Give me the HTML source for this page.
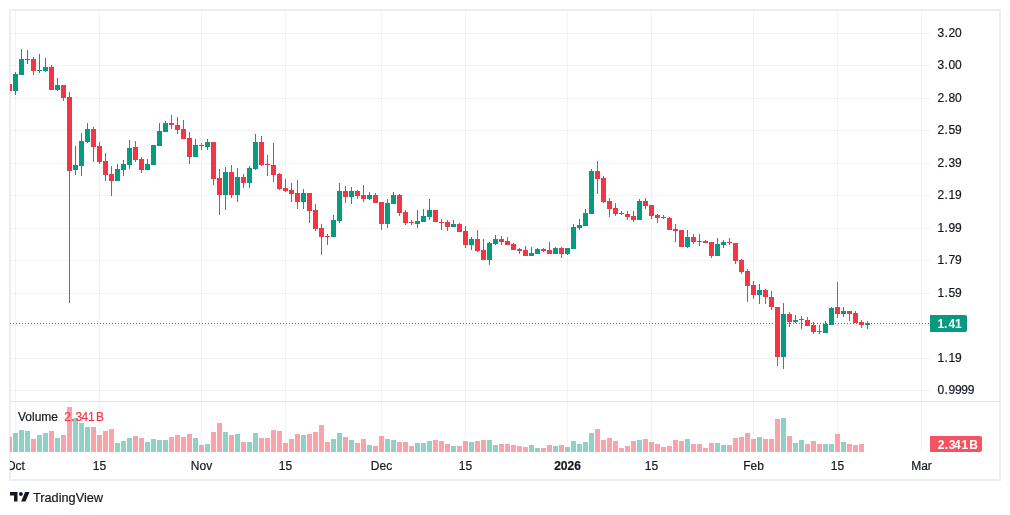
<!DOCTYPE html><html><head><meta charset="utf-8"><style>html,body{margin:0;padding:0;background:#fff;width:1010px;height:515px;overflow:hidden}svg{display:block;will-change:transform}text{font-family:"Liberation Sans",sans-serif;stroke:currentColor;stroke-width:0.2px}</style></head><body>
<svg width="1010" height="515" viewBox="0 0 1010 515">
<defs><clipPath id="cm"><rect x="10" y="10" width="911" height="391"/></clipPath><clipPath id="cv"><rect x="10" y="402" width="911" height="50"/></clipPath><clipPath id="ct"><rect x="10" y="452" width="989" height="27"/></clipPath></defs>
<g shape-rendering="crispEdges">
<rect x="9" y="9" width="992" height="2" fill="#eceef2"/>
<rect x="9" y="479" width="992" height="2" fill="#eceef2"/>
<rect x="9" y="9" width="2" height="472" fill="#eceef2"/>
<rect x="999" y="9" width="2" height="472" fill="#eceef2"/>
<rect x="15" y="10" width="1" height="391" fill="rgba(42,46,57,0.06)"/>
<rect x="15" y="402" width="1" height="50" fill="rgba(42,46,57,0.06)"/>
<rect x="99" y="10" width="1" height="391" fill="rgba(42,46,57,0.06)"/>
<rect x="99" y="402" width="1" height="50" fill="rgba(42,46,57,0.06)"/>
<rect x="201" y="10" width="1" height="391" fill="rgba(42,46,57,0.06)"/>
<rect x="201" y="402" width="1" height="50" fill="rgba(42,46,57,0.06)"/>
<rect x="285" y="10" width="1" height="391" fill="rgba(42,46,57,0.06)"/>
<rect x="285" y="402" width="1" height="50" fill="rgba(42,46,57,0.06)"/>
<rect x="381" y="10" width="1" height="391" fill="rgba(42,46,57,0.06)"/>
<rect x="381" y="402" width="1" height="50" fill="rgba(42,46,57,0.06)"/>
<rect x="465" y="10" width="1" height="391" fill="rgba(42,46,57,0.06)"/>
<rect x="465" y="402" width="1" height="50" fill="rgba(42,46,57,0.06)"/>
<rect x="567" y="10" width="1" height="391" fill="rgba(42,46,57,0.06)"/>
<rect x="567" y="402" width="1" height="50" fill="rgba(42,46,57,0.06)"/>
<rect x="651" y="10" width="1" height="391" fill="rgba(42,46,57,0.06)"/>
<rect x="651" y="402" width="1" height="50" fill="rgba(42,46,57,0.06)"/>
<rect x="753" y="10" width="1" height="391" fill="rgba(42,46,57,0.06)"/>
<rect x="753" y="402" width="1" height="50" fill="rgba(42,46,57,0.06)"/>
<rect x="837" y="10" width="1" height="391" fill="rgba(42,46,57,0.06)"/>
<rect x="837" y="402" width="1" height="50" fill="rgba(42,46,57,0.06)"/>
<rect x="10" y="33" width="911" height="1" fill="rgba(42,46,57,0.06)"/>
<rect x="922" y="33" width="8" height="1" fill="rgba(42,46,57,0.06)"/>
<rect x="10" y="65" width="911" height="1" fill="rgba(42,46,57,0.06)"/>
<rect x="922" y="65" width="8" height="1" fill="rgba(42,46,57,0.06)"/>
<rect x="10" y="98" width="911" height="1" fill="rgba(42,46,57,0.06)"/>
<rect x="922" y="98" width="8" height="1" fill="rgba(42,46,57,0.06)"/>
<rect x="10" y="130" width="911" height="1" fill="rgba(42,46,57,0.06)"/>
<rect x="922" y="130" width="8" height="1" fill="rgba(42,46,57,0.06)"/>
<rect x="10" y="163" width="911" height="1" fill="rgba(42,46,57,0.06)"/>
<rect x="922" y="163" width="8" height="1" fill="rgba(42,46,57,0.06)"/>
<rect x="10" y="195" width="911" height="1" fill="rgba(42,46,57,0.06)"/>
<rect x="922" y="195" width="8" height="1" fill="rgba(42,46,57,0.06)"/>
<rect x="10" y="228" width="911" height="1" fill="rgba(42,46,57,0.06)"/>
<rect x="922" y="228" width="8" height="1" fill="rgba(42,46,57,0.06)"/>
<rect x="10" y="260" width="911" height="1" fill="rgba(42,46,57,0.06)"/>
<rect x="922" y="260" width="8" height="1" fill="rgba(42,46,57,0.06)"/>
<rect x="10" y="293" width="911" height="1" fill="rgba(42,46,57,0.06)"/>
<rect x="922" y="293" width="8" height="1" fill="rgba(42,46,57,0.06)"/>
<rect x="10" y="325" width="911" height="1" fill="rgba(42,46,57,0.06)"/>
<rect x="922" y="325" width="8" height="1" fill="rgba(42,46,57,0.06)"/>
<rect x="10" y="358" width="911" height="1" fill="rgba(42,46,57,0.06)"/>
<rect x="922" y="358" width="8" height="1" fill="rgba(42,46,57,0.06)"/>
<rect x="10" y="390" width="911" height="1" fill="rgba(42,46,57,0.06)"/>
<rect x="922" y="390" width="8" height="1" fill="rgba(42,46,57,0.06)"/>
<rect x="921" y="10" width="1" height="442" fill="rgba(42,46,57,0.06)"/>
<rect x="10" y="401" width="990" height="1" fill="#e0e3eb"/>
</g>
<g clip-path="url(#cm)" shape-rendering="crispEdges">
<rect x="9" y="84" width="1" height="7" fill="#f23645"/>
<rect x="7" y="84" width="5" height="7" fill="#f23645"/>
<rect x="15" y="72" width="1" height="23" fill="#089981"/>
<rect x="13" y="74" width="5" height="17" fill="#089981"/>
<rect x="21" y="49" width="1" height="26" fill="#089981"/>
<rect x="19" y="59" width="5" height="16" fill="#089981"/>
<rect x="27" y="50" width="1" height="14" fill="#089981"/>
<rect x="25" y="59" width="5" height="1" fill="#089981"/>
<rect x="33" y="57" width="1" height="18" fill="#f23645"/>
<rect x="31" y="59" width="5" height="12" fill="#f23645"/>
<rect x="39" y="54" width="1" height="19" fill="#089981"/>
<rect x="37" y="70" width="5" height="1" fill="#089981"/>
<rect x="45" y="58" width="1" height="14" fill="#089981"/>
<rect x="43" y="67" width="5" height="4" fill="#089981"/>
<rect x="51" y="65" width="1" height="25" fill="#f23645"/>
<rect x="49" y="67" width="5" height="23" fill="#f23645"/>
<rect x="57" y="78" width="1" height="13" fill="#089981"/>
<rect x="55" y="85" width="5" height="5" fill="#089981"/>
<rect x="63" y="85" width="1" height="16" fill="#f23645"/>
<rect x="61" y="85" width="5" height="13" fill="#f23645"/>
<rect x="69" y="92" width="1" height="211" fill="#f23645"/>
<rect x="67" y="97" width="5" height="74" fill="#f23645"/>
<rect x="75" y="146" width="1" height="29" fill="#089981"/>
<rect x="73" y="165" width="5" height="5" fill="#089981"/>
<rect x="81" y="133" width="1" height="43" fill="#089981"/>
<rect x="79" y="141" width="5" height="25" fill="#089981"/>
<rect x="87" y="123" width="1" height="20" fill="#089981"/>
<rect x="85" y="129" width="5" height="13" fill="#089981"/>
<rect x="93" y="127" width="1" height="35" fill="#f23645"/>
<rect x="91" y="129" width="5" height="18" fill="#f23645"/>
<rect x="99" y="142" width="1" height="22" fill="#f23645"/>
<rect x="97" y="146" width="5" height="16" fill="#f23645"/>
<rect x="105" y="153" width="1" height="28" fill="#f23645"/>
<rect x="103" y="161" width="5" height="14" fill="#f23645"/>
<rect x="111" y="166" width="1" height="30" fill="#f23645"/>
<rect x="109" y="174" width="5" height="7" fill="#f23645"/>
<rect x="117" y="164" width="1" height="17" fill="#089981"/>
<rect x="115" y="169" width="5" height="12" fill="#089981"/>
<rect x="123" y="160" width="1" height="16" fill="#089981"/>
<rect x="121" y="164" width="5" height="6" fill="#089981"/>
<rect x="129" y="140" width="1" height="29" fill="#089981"/>
<rect x="127" y="148" width="5" height="17" fill="#089981"/>
<rect x="135" y="141" width="1" height="21" fill="#f23645"/>
<rect x="133" y="147" width="5" height="13" fill="#f23645"/>
<rect x="141" y="157" width="1" height="16" fill="#f23645"/>
<rect x="139" y="159" width="5" height="11" fill="#f23645"/>
<rect x="147" y="159" width="1" height="11" fill="#089981"/>
<rect x="145" y="164" width="5" height="6" fill="#089981"/>
<rect x="153" y="145" width="1" height="20" fill="#089981"/>
<rect x="151" y="145" width="5" height="20" fill="#089981"/>
<rect x="159" y="123" width="1" height="23" fill="#089981"/>
<rect x="157" y="131" width="5" height="15" fill="#089981"/>
<rect x="165" y="121" width="1" height="11" fill="#089981"/>
<rect x="163" y="123" width="5" height="9" fill="#089981"/>
<rect x="171" y="115" width="1" height="14" fill="#f23645"/>
<rect x="169" y="123" width="5" height="2" fill="#f23645"/>
<rect x="177" y="117" width="1" height="17" fill="#f23645"/>
<rect x="175" y="125" width="5" height="5" fill="#f23645"/>
<rect x="183" y="120" width="1" height="19" fill="#f23645"/>
<rect x="181" y="129" width="5" height="10" fill="#f23645"/>
<rect x="189" y="132" width="1" height="32" fill="#f23645"/>
<rect x="187" y="138" width="5" height="19" fill="#f23645"/>
<rect x="195" y="139" width="1" height="18" fill="#089981"/>
<rect x="193" y="145" width="5" height="12" fill="#089981"/>
<rect x="201" y="143" width="1" height="7" fill="#f23645"/>
<rect x="199" y="145" width="5" height="1" fill="#f23645"/>
<rect x="207" y="139" width="1" height="11" fill="#089981"/>
<rect x="205" y="142" width="5" height="5" fill="#089981"/>
<rect x="213" y="142" width="1" height="43" fill="#f23645"/>
<rect x="211" y="142" width="5" height="37" fill="#f23645"/>
<rect x="219" y="169" width="1" height="46" fill="#f23645"/>
<rect x="217" y="178" width="5" height="17" fill="#f23645"/>
<rect x="225" y="167" width="1" height="43" fill="#089981"/>
<rect x="223" y="172" width="5" height="23" fill="#089981"/>
<rect x="231" y="165" width="1" height="33" fill="#f23645"/>
<rect x="229" y="172" width="5" height="23" fill="#f23645"/>
<rect x="237" y="168" width="1" height="34" fill="#089981"/>
<rect x="235" y="177" width="5" height="18" fill="#089981"/>
<rect x="243" y="174" width="1" height="14" fill="#f23645"/>
<rect x="241" y="177" width="5" height="6" fill="#f23645"/>
<rect x="249" y="166" width="1" height="22" fill="#089981"/>
<rect x="247" y="168" width="5" height="15" fill="#089981"/>
<rect x="255" y="134" width="1" height="36" fill="#089981"/>
<rect x="253" y="142" width="5" height="27" fill="#089981"/>
<rect x="261" y="136" width="1" height="30" fill="#f23645"/>
<rect x="259" y="142" width="5" height="23" fill="#f23645"/>
<rect x="267" y="155" width="1" height="21" fill="#f23645"/>
<rect x="265" y="164" width="5" height="1" fill="#f23645"/>
<rect x="273" y="143" width="1" height="39" fill="#f23645"/>
<rect x="271" y="165" width="5" height="10" fill="#f23645"/>
<rect x="279" y="173" width="1" height="17" fill="#f23645"/>
<rect x="277" y="174" width="5" height="15" fill="#f23645"/>
<rect x="285" y="179" width="1" height="13" fill="#f23645"/>
<rect x="283" y="188" width="5" height="3" fill="#f23645"/>
<rect x="291" y="183" width="1" height="19" fill="#f23645"/>
<rect x="289" y="190" width="5" height="4" fill="#f23645"/>
<rect x="297" y="180" width="1" height="29" fill="#f23645"/>
<rect x="295" y="193" width="5" height="9" fill="#f23645"/>
<rect x="303" y="189" width="1" height="20" fill="#089981"/>
<rect x="301" y="193" width="5" height="9" fill="#089981"/>
<rect x="309" y="193" width="1" height="30" fill="#f23645"/>
<rect x="307" y="193" width="5" height="18" fill="#f23645"/>
<rect x="315" y="204" width="1" height="27" fill="#f23645"/>
<rect x="313" y="210" width="5" height="19" fill="#f23645"/>
<rect x="321" y="224" width="1" height="31" fill="#f23645"/>
<rect x="319" y="228" width="5" height="9" fill="#f23645"/>
<rect x="327" y="234" width="1" height="11" fill="#f23645"/>
<rect x="325" y="236" width="5" height="1" fill="#f23645"/>
<rect x="333" y="215" width="1" height="22" fill="#089981"/>
<rect x="331" y="220" width="5" height="17" fill="#089981"/>
<rect x="339" y="183" width="1" height="40" fill="#089981"/>
<rect x="337" y="191" width="5" height="30" fill="#089981"/>
<rect x="345" y="186" width="1" height="17" fill="#f23645"/>
<rect x="343" y="191" width="5" height="6" fill="#f23645"/>
<rect x="351" y="187" width="1" height="17" fill="#089981"/>
<rect x="349" y="191" width="5" height="6" fill="#089981"/>
<rect x="357" y="190" width="1" height="9" fill="#f23645"/>
<rect x="355" y="191" width="5" height="5" fill="#f23645"/>
<rect x="363" y="185" width="1" height="17" fill="#f23645"/>
<rect x="361" y="195" width="5" height="4" fill="#f23645"/>
<rect x="369" y="192" width="1" height="8" fill="#089981"/>
<rect x="367" y="195" width="5" height="4" fill="#089981"/>
<rect x="375" y="193" width="1" height="10" fill="#f23645"/>
<rect x="373" y="195" width="5" height="8" fill="#f23645"/>
<rect x="381" y="202" width="1" height="28" fill="#f23645"/>
<rect x="379" y="202" width="5" height="22" fill="#f23645"/>
<rect x="387" y="199" width="1" height="29" fill="#089981"/>
<rect x="385" y="203" width="5" height="21" fill="#089981"/>
<rect x="393" y="192" width="1" height="12" fill="#089981"/>
<rect x="391" y="195" width="5" height="9" fill="#089981"/>
<rect x="399" y="194" width="1" height="22" fill="#f23645"/>
<rect x="397" y="195" width="5" height="18" fill="#f23645"/>
<rect x="405" y="210" width="1" height="15" fill="#f23645"/>
<rect x="403" y="212" width="5" height="11" fill="#f23645"/>
<rect x="411" y="220" width="1" height="5" fill="#f23645"/>
<rect x="409" y="222" width="5" height="1" fill="#f23645"/>
<rect x="417" y="210" width="1" height="18" fill="#089981"/>
<rect x="415" y="221" width="5" height="3" fill="#089981"/>
<rect x="423" y="209" width="1" height="13" fill="#089981"/>
<rect x="421" y="216" width="5" height="6" fill="#089981"/>
<rect x="429" y="199" width="1" height="21" fill="#089981"/>
<rect x="427" y="210" width="5" height="7" fill="#089981"/>
<rect x="435" y="210" width="1" height="12" fill="#f23645"/>
<rect x="433" y="210" width="5" height="12" fill="#f23645"/>
<rect x="441" y="219" width="1" height="11" fill="#f23645"/>
<rect x="439" y="222" width="5" height="1" fill="#f23645"/>
<rect x="447" y="220" width="1" height="11" fill="#f23645"/>
<rect x="445" y="222" width="5" height="5" fill="#f23645"/>
<rect x="453" y="220" width="1" height="7" fill="#089981"/>
<rect x="451" y="224" width="5" height="3" fill="#089981"/>
<rect x="459" y="223" width="1" height="9" fill="#f23645"/>
<rect x="457" y="224" width="5" height="8" fill="#f23645"/>
<rect x="465" y="226" width="1" height="22" fill="#f23645"/>
<rect x="463" y="231" width="5" height="14" fill="#f23645"/>
<rect x="471" y="237" width="1" height="13" fill="#089981"/>
<rect x="469" y="239" width="5" height="6" fill="#089981"/>
<rect x="477" y="230" width="1" height="22" fill="#f23645"/>
<rect x="475" y="239" width="5" height="12" fill="#f23645"/>
<rect x="483" y="239" width="1" height="21" fill="#f23645"/>
<rect x="481" y="250" width="5" height="10" fill="#f23645"/>
<rect x="489" y="242" width="1" height="23" fill="#089981"/>
<rect x="487" y="243" width="5" height="17" fill="#089981"/>
<rect x="495" y="235" width="1" height="10" fill="#089981"/>
<rect x="493" y="239" width="5" height="5" fill="#089981"/>
<rect x="501" y="236" width="1" height="9" fill="#f23645"/>
<rect x="499" y="239" width="5" height="3" fill="#f23645"/>
<rect x="507" y="237" width="1" height="8" fill="#f23645"/>
<rect x="505" y="241" width="5" height="4" fill="#f23645"/>
<rect x="513" y="243" width="1" height="7" fill="#f23645"/>
<rect x="511" y="244" width="5" height="6" fill="#f23645"/>
<rect x="519" y="248" width="1" height="6" fill="#f23645"/>
<rect x="517" y="249" width="5" height="2" fill="#f23645"/>
<rect x="525" y="246" width="1" height="10" fill="#f23645"/>
<rect x="523" y="250" width="5" height="6" fill="#f23645"/>
<rect x="531" y="247" width="1" height="9" fill="#089981"/>
<rect x="529" y="253" width="5" height="3" fill="#089981"/>
<rect x="537" y="248" width="1" height="6" fill="#089981"/>
<rect x="535" y="249" width="5" height="5" fill="#089981"/>
<rect x="543" y="248" width="1" height="4" fill="#f23645"/>
<rect x="541" y="249" width="5" height="2" fill="#f23645"/>
<rect x="549" y="242" width="1" height="12" fill="#f23645"/>
<rect x="547" y="250" width="5" height="4" fill="#f23645"/>
<rect x="555" y="247" width="1" height="7" fill="#089981"/>
<rect x="553" y="248" width="5" height="6" fill="#089981"/>
<rect x="561" y="247" width="1" height="11" fill="#f23645"/>
<rect x="559" y="248" width="5" height="6" fill="#f23645"/>
<rect x="567" y="248" width="1" height="7" fill="#089981"/>
<rect x="565" y="248" width="5" height="6" fill="#089981"/>
<rect x="573" y="224" width="1" height="25" fill="#089981"/>
<rect x="571" y="227" width="5" height="22" fill="#089981"/>
<rect x="579" y="219" width="1" height="11" fill="#089981"/>
<rect x="577" y="225" width="5" height="3" fill="#089981"/>
<rect x="585" y="209" width="1" height="17" fill="#089981"/>
<rect x="583" y="213" width="5" height="13" fill="#089981"/>
<rect x="591" y="169" width="1" height="45" fill="#089981"/>
<rect x="589" y="171" width="5" height="43" fill="#089981"/>
<rect x="597" y="161" width="1" height="33" fill="#f23645"/>
<rect x="595" y="171" width="5" height="8" fill="#f23645"/>
<rect x="603" y="176" width="1" height="27" fill="#f23645"/>
<rect x="601" y="178" width="5" height="24" fill="#f23645"/>
<rect x="609" y="198" width="1" height="19" fill="#f23645"/>
<rect x="607" y="201" width="5" height="8" fill="#f23645"/>
<rect x="615" y="203" width="1" height="13" fill="#f23645"/>
<rect x="613" y="208" width="5" height="6" fill="#f23645"/>
<rect x="621" y="211" width="1" height="4" fill="#f23645"/>
<rect x="619" y="213" width="5" height="1" fill="#f23645"/>
<rect x="627" y="211" width="1" height="9" fill="#f23645"/>
<rect x="625" y="214" width="5" height="3" fill="#f23645"/>
<rect x="633" y="211" width="1" height="11" fill="#f23645"/>
<rect x="631" y="216" width="5" height="4" fill="#f23645"/>
<rect x="639" y="199" width="1" height="21" fill="#089981"/>
<rect x="637" y="201" width="5" height="19" fill="#089981"/>
<rect x="645" y="198" width="1" height="11" fill="#f23645"/>
<rect x="643" y="201" width="5" height="5" fill="#f23645"/>
<rect x="651" y="205" width="1" height="14" fill="#f23645"/>
<rect x="649" y="205" width="5" height="11" fill="#f23645"/>
<rect x="657" y="214" width="1" height="9" fill="#f23645"/>
<rect x="655" y="215" width="5" height="3" fill="#f23645"/>
<rect x="663" y="215" width="1" height="4" fill="#f23645"/>
<rect x="661" y="217" width="5" height="1" fill="#f23645"/>
<rect x="669" y="217" width="1" height="13" fill="#f23645"/>
<rect x="667" y="218" width="5" height="12" fill="#f23645"/>
<rect x="675" y="224" width="1" height="18" fill="#f23645"/>
<rect x="673" y="229" width="5" height="2" fill="#f23645"/>
<rect x="681" y="230" width="1" height="17" fill="#f23645"/>
<rect x="679" y="230" width="5" height="17" fill="#f23645"/>
<rect x="687" y="230" width="1" height="18" fill="#089981"/>
<rect x="685" y="237" width="5" height="10" fill="#089981"/>
<rect x="693" y="234" width="1" height="10" fill="#f23645"/>
<rect x="691" y="237" width="5" height="5" fill="#f23645"/>
<rect x="699" y="234" width="1" height="12" fill="#f23645"/>
<rect x="697" y="241" width="5" height="1" fill="#f23645"/>
<rect x="705" y="240" width="1" height="3" fill="#f23645"/>
<rect x="703" y="241" width="5" height="2" fill="#f23645"/>
<rect x="711" y="242" width="1" height="16" fill="#f23645"/>
<rect x="709" y="242" width="5" height="14" fill="#f23645"/>
<rect x="717" y="238" width="1" height="18" fill="#089981"/>
<rect x="715" y="244" width="5" height="12" fill="#089981"/>
<rect x="723" y="240" width="1" height="8" fill="#089981"/>
<rect x="721" y="242" width="5" height="3" fill="#089981"/>
<rect x="729" y="238" width="1" height="7" fill="#f23645"/>
<rect x="727" y="242" width="5" height="1" fill="#f23645"/>
<rect x="735" y="243" width="1" height="21" fill="#f23645"/>
<rect x="733" y="243" width="5" height="18" fill="#f23645"/>
<rect x="741" y="259" width="1" height="15" fill="#f23645"/>
<rect x="739" y="260" width="5" height="12" fill="#f23645"/>
<rect x="747" y="269" width="1" height="33" fill="#f23645"/>
<rect x="745" y="271" width="5" height="15" fill="#f23645"/>
<rect x="753" y="281" width="1" height="18" fill="#f23645"/>
<rect x="751" y="285" width="5" height="10" fill="#f23645"/>
<rect x="759" y="284" width="1" height="20" fill="#089981"/>
<rect x="757" y="290" width="5" height="5" fill="#089981"/>
<rect x="765" y="289" width="1" height="15" fill="#f23645"/>
<rect x="763" y="290" width="5" height="7" fill="#f23645"/>
<rect x="771" y="291" width="1" height="19" fill="#f23645"/>
<rect x="769" y="297" width="5" height="10" fill="#f23645"/>
<rect x="777" y="307" width="1" height="59" fill="#f23645"/>
<rect x="775" y="307" width="5" height="50" fill="#f23645"/>
<rect x="783" y="303" width="1" height="66" fill="#089981"/>
<rect x="781" y="314" width="5" height="43" fill="#089981"/>
<rect x="789" y="312" width="1" height="15" fill="#f23645"/>
<rect x="787" y="314" width="5" height="8" fill="#f23645"/>
<rect x="795" y="315" width="1" height="8" fill="#089981"/>
<rect x="793" y="320" width="5" height="2" fill="#089981"/>
<rect x="801" y="316" width="1" height="13" fill="#089981"/>
<rect x="799" y="319" width="5" height="1" fill="#089981"/>
<rect x="807" y="317" width="1" height="9" fill="#f23645"/>
<rect x="805" y="320" width="5" height="6" fill="#f23645"/>
<rect x="813" y="322" width="1" height="12" fill="#f23645"/>
<rect x="811" y="325" width="5" height="7" fill="#f23645"/>
<rect x="819" y="325" width="1" height="9" fill="#f23645"/>
<rect x="817" y="331" width="5" height="1" fill="#f23645"/>
<rect x="825" y="321" width="1" height="12" fill="#089981"/>
<rect x="823" y="324" width="5" height="9" fill="#089981"/>
<rect x="831" y="307" width="1" height="18" fill="#089981"/>
<rect x="829" y="308" width="5" height="17" fill="#089981"/>
<rect x="837" y="282" width="1" height="36" fill="#f23645"/>
<rect x="835" y="307" width="5" height="7" fill="#f23645"/>
<rect x="843" y="307" width="1" height="10" fill="#089981"/>
<rect x="841" y="311" width="5" height="3" fill="#089981"/>
<rect x="849" y="311" width="1" height="10" fill="#f23645"/>
<rect x="847" y="311" width="5" height="3" fill="#f23645"/>
<rect x="855" y="311" width="1" height="12" fill="#f23645"/>
<rect x="853" y="313" width="5" height="10" fill="#f23645"/>
<rect x="861" y="320" width="1" height="8" fill="#f23645"/>
<rect x="859" y="322" width="5" height="3" fill="#f23645"/>
<rect x="867" y="321" width="1" height="8" fill="#089981"/>
<rect x="865" y="323" width="5" height="2" fill="#089981"/>
</g>
<g clip-path="url(#cv)" shape-rendering="crispEdges">
<rect x="7" y="437" width="5" height="15" fill="rgba(242,54,69,0.45)"/>
<rect x="13" y="433" width="5" height="19" fill="rgba(8,153,129,0.45)"/>
<rect x="19" y="430" width="5" height="22" fill="rgba(8,153,129,0.45)"/>
<rect x="25" y="431" width="5" height="21" fill="rgba(8,153,129,0.45)"/>
<rect x="31" y="439" width="5" height="13" fill="rgba(242,54,69,0.45)"/>
<rect x="37" y="435" width="5" height="17" fill="rgba(8,153,129,0.45)"/>
<rect x="43" y="433" width="5" height="19" fill="rgba(8,153,129,0.45)"/>
<rect x="49" y="431" width="5" height="21" fill="rgba(242,54,69,0.45)"/>
<rect x="55" y="438" width="5" height="14" fill="rgba(8,153,129,0.45)"/>
<rect x="61" y="435" width="5" height="17" fill="rgba(242,54,69,0.45)"/>
<rect x="67" y="407" width="5" height="45" fill="rgba(242,54,69,0.45)"/>
<rect x="73" y="418" width="5" height="34" fill="rgba(8,153,129,0.45)"/>
<rect x="79" y="423" width="5" height="29" fill="rgba(8,153,129,0.45)"/>
<rect x="85" y="427" width="5" height="25" fill="rgba(8,153,129,0.45)"/>
<rect x="91" y="427" width="5" height="25" fill="rgba(242,54,69,0.45)"/>
<rect x="97" y="435" width="5" height="17" fill="rgba(242,54,69,0.45)"/>
<rect x="103" y="431" width="5" height="21" fill="rgba(242,54,69,0.45)"/>
<rect x="109" y="429" width="5" height="23" fill="rgba(242,54,69,0.45)"/>
<rect x="115" y="443" width="5" height="9" fill="rgba(8,153,129,0.45)"/>
<rect x="121" y="441" width="5" height="11" fill="rgba(8,153,129,0.45)"/>
<rect x="127" y="438" width="5" height="14" fill="rgba(8,153,129,0.45)"/>
<rect x="133" y="436" width="5" height="16" fill="rgba(242,54,69,0.45)"/>
<rect x="139" y="438" width="5" height="14" fill="rgba(242,54,69,0.45)"/>
<rect x="145" y="442" width="5" height="10" fill="rgba(8,153,129,0.45)"/>
<rect x="151" y="439" width="5" height="13" fill="rgba(8,153,129,0.45)"/>
<rect x="157" y="440" width="5" height="12" fill="rgba(8,153,129,0.45)"/>
<rect x="163" y="440" width="5" height="12" fill="rgba(8,153,129,0.45)"/>
<rect x="169" y="437" width="5" height="15" fill="rgba(242,54,69,0.45)"/>
<rect x="175" y="435" width="5" height="17" fill="rgba(242,54,69,0.45)"/>
<rect x="181" y="437" width="5" height="15" fill="rgba(242,54,69,0.45)"/>
<rect x="187" y="434" width="5" height="18" fill="rgba(242,54,69,0.45)"/>
<rect x="193" y="438" width="5" height="14" fill="rgba(8,153,129,0.45)"/>
<rect x="199" y="445" width="5" height="7" fill="rgba(242,54,69,0.45)"/>
<rect x="205" y="444" width="5" height="8" fill="rgba(8,153,129,0.45)"/>
<rect x="211" y="432" width="5" height="20" fill="rgba(242,54,69,0.45)"/>
<rect x="217" y="423" width="5" height="29" fill="rgba(242,54,69,0.45)"/>
<rect x="223" y="432" width="5" height="20" fill="rgba(8,153,129,0.45)"/>
<rect x="229" y="435" width="5" height="17" fill="rgba(242,54,69,0.45)"/>
<rect x="235" y="434" width="5" height="18" fill="rgba(8,153,129,0.45)"/>
<rect x="241" y="442" width="5" height="10" fill="rgba(242,54,69,0.45)"/>
<rect x="247" y="442" width="5" height="10" fill="rgba(8,153,129,0.45)"/>
<rect x="253" y="433" width="5" height="19" fill="rgba(8,153,129,0.45)"/>
<rect x="259" y="438" width="5" height="14" fill="rgba(242,54,69,0.45)"/>
<rect x="265" y="438" width="5" height="14" fill="rgba(242,54,69,0.45)"/>
<rect x="271" y="430" width="5" height="22" fill="rgba(242,54,69,0.45)"/>
<rect x="277" y="431" width="5" height="21" fill="rgba(242,54,69,0.45)"/>
<rect x="283" y="443" width="5" height="9" fill="rgba(242,54,69,0.45)"/>
<rect x="289" y="439" width="5" height="13" fill="rgba(242,54,69,0.45)"/>
<rect x="295" y="434" width="5" height="18" fill="rgba(242,54,69,0.45)"/>
<rect x="301" y="435" width="5" height="17" fill="rgba(8,153,129,0.45)"/>
<rect x="307" y="434" width="5" height="18" fill="rgba(242,54,69,0.45)"/>
<rect x="313" y="432" width="5" height="20" fill="rgba(242,54,69,0.45)"/>
<rect x="319" y="425" width="5" height="27" fill="rgba(242,54,69,0.45)"/>
<rect x="325" y="442" width="5" height="10" fill="rgba(242,54,69,0.45)"/>
<rect x="331" y="439" width="5" height="13" fill="rgba(8,153,129,0.45)"/>
<rect x="337" y="433" width="5" height="19" fill="rgba(8,153,129,0.45)"/>
<rect x="343" y="437" width="5" height="15" fill="rgba(242,54,69,0.45)"/>
<rect x="349" y="440" width="5" height="12" fill="rgba(8,153,129,0.45)"/>
<rect x="355" y="443" width="5" height="9" fill="rgba(242,54,69,0.45)"/>
<rect x="361" y="439" width="5" height="13" fill="rgba(242,54,69,0.45)"/>
<rect x="367" y="445" width="5" height="7" fill="rgba(8,153,129,0.45)"/>
<rect x="373" y="446" width="5" height="6" fill="rgba(242,54,69,0.45)"/>
<rect x="379" y="436" width="5" height="16" fill="rgba(242,54,69,0.45)"/>
<rect x="385" y="439" width="5" height="13" fill="rgba(8,153,129,0.45)"/>
<rect x="391" y="440" width="5" height="12" fill="rgba(8,153,129,0.45)"/>
<rect x="397" y="442" width="5" height="10" fill="rgba(242,54,69,0.45)"/>
<rect x="403" y="442" width="5" height="10" fill="rgba(242,54,69,0.45)"/>
<rect x="409" y="446" width="5" height="6" fill="rgba(242,54,69,0.45)"/>
<rect x="415" y="443" width="5" height="9" fill="rgba(8,153,129,0.45)"/>
<rect x="421" y="443" width="5" height="9" fill="rgba(8,153,129,0.45)"/>
<rect x="427" y="441" width="5" height="11" fill="rgba(8,153,129,0.45)"/>
<rect x="433" y="440" width="5" height="12" fill="rgba(242,54,69,0.45)"/>
<rect x="439" y="441" width="5" height="11" fill="rgba(242,54,69,0.45)"/>
<rect x="445" y="444" width="5" height="8" fill="rgba(242,54,69,0.45)"/>
<rect x="451" y="446" width="5" height="6" fill="rgba(8,153,129,0.45)"/>
<rect x="457" y="446" width="5" height="6" fill="rgba(242,54,69,0.45)"/>
<rect x="463" y="441" width="5" height="11" fill="rgba(242,54,69,0.45)"/>
<rect x="469" y="442" width="5" height="10" fill="rgba(8,153,129,0.45)"/>
<rect x="475" y="441" width="5" height="11" fill="rgba(242,54,69,0.45)"/>
<rect x="481" y="440" width="5" height="12" fill="rgba(242,54,69,0.45)"/>
<rect x="487" y="440" width="5" height="12" fill="rgba(8,153,129,0.45)"/>
<rect x="493" y="445" width="5" height="7" fill="rgba(8,153,129,0.45)"/>
<rect x="499" y="444" width="5" height="8" fill="rgba(242,54,69,0.45)"/>
<rect x="505" y="444" width="5" height="8" fill="rgba(242,54,69,0.45)"/>
<rect x="511" y="445" width="5" height="7" fill="rgba(242,54,69,0.45)"/>
<rect x="517" y="446" width="5" height="6" fill="rgba(242,54,69,0.45)"/>
<rect x="523" y="447" width="5" height="5" fill="rgba(242,54,69,0.45)"/>
<rect x="529" y="445" width="5" height="7" fill="rgba(8,153,129,0.45)"/>
<rect x="535" y="448" width="5" height="4" fill="rgba(8,153,129,0.45)"/>
<rect x="541" y="448" width="5" height="4" fill="rgba(242,54,69,0.45)"/>
<rect x="547" y="445" width="5" height="7" fill="rgba(242,54,69,0.45)"/>
<rect x="553" y="446" width="5" height="6" fill="rgba(8,153,129,0.45)"/>
<rect x="559" y="445" width="5" height="7" fill="rgba(242,54,69,0.45)"/>
<rect x="565" y="447" width="5" height="5" fill="rgba(8,153,129,0.45)"/>
<rect x="571" y="441" width="5" height="11" fill="rgba(8,153,129,0.45)"/>
<rect x="577" y="444" width="5" height="8" fill="rgba(8,153,129,0.45)"/>
<rect x="583" y="442" width="5" height="10" fill="rgba(8,153,129,0.45)"/>
<rect x="589" y="433" width="5" height="19" fill="rgba(8,153,129,0.45)"/>
<rect x="595" y="429" width="5" height="23" fill="rgba(242,54,69,0.45)"/>
<rect x="601" y="440" width="5" height="12" fill="rgba(242,54,69,0.45)"/>
<rect x="607" y="438" width="5" height="14" fill="rgba(242,54,69,0.45)"/>
<rect x="613" y="441" width="5" height="11" fill="rgba(242,54,69,0.45)"/>
<rect x="619" y="448" width="5" height="4" fill="rgba(242,54,69,0.45)"/>
<rect x="625" y="446" width="5" height="6" fill="rgba(242,54,69,0.45)"/>
<rect x="631" y="441" width="5" height="11" fill="rgba(242,54,69,0.45)"/>
<rect x="637" y="440" width="5" height="12" fill="rgba(8,153,129,0.45)"/>
<rect x="643" y="439" width="5" height="13" fill="rgba(242,54,69,0.45)"/>
<rect x="649" y="442" width="5" height="10" fill="rgba(242,54,69,0.45)"/>
<rect x="655" y="444" width="5" height="8" fill="rgba(242,54,69,0.45)"/>
<rect x="661" y="447" width="5" height="5" fill="rgba(242,54,69,0.45)"/>
<rect x="667" y="446" width="5" height="6" fill="rgba(242,54,69,0.45)"/>
<rect x="673" y="440" width="5" height="12" fill="rgba(242,54,69,0.45)"/>
<rect x="679" y="441" width="5" height="11" fill="rgba(242,54,69,0.45)"/>
<rect x="685" y="439" width="5" height="13" fill="rgba(8,153,129,0.45)"/>
<rect x="691" y="444" width="5" height="8" fill="rgba(242,54,69,0.45)"/>
<rect x="697" y="444" width="5" height="8" fill="rgba(242,54,69,0.45)"/>
<rect x="703" y="448" width="5" height="4" fill="rgba(242,54,69,0.45)"/>
<rect x="709" y="443" width="5" height="9" fill="rgba(242,54,69,0.45)"/>
<rect x="715" y="443" width="5" height="9" fill="rgba(8,153,129,0.45)"/>
<rect x="721" y="445" width="5" height="7" fill="rgba(8,153,129,0.45)"/>
<rect x="727" y="445" width="5" height="7" fill="rgba(242,54,69,0.45)"/>
<rect x="733" y="438" width="5" height="14" fill="rgba(242,54,69,0.45)"/>
<rect x="739" y="437" width="5" height="15" fill="rgba(242,54,69,0.45)"/>
<rect x="745" y="433" width="5" height="19" fill="rgba(242,54,69,0.45)"/>
<rect x="751" y="439" width="5" height="13" fill="rgba(242,54,69,0.45)"/>
<rect x="757" y="437" width="5" height="15" fill="rgba(8,153,129,0.45)"/>
<rect x="763" y="439" width="5" height="13" fill="rgba(242,54,69,0.45)"/>
<rect x="769" y="439" width="5" height="13" fill="rgba(242,54,69,0.45)"/>
<rect x="775" y="419" width="5" height="33" fill="rgba(242,54,69,0.45)"/>
<rect x="781" y="418" width="5" height="34" fill="rgba(8,153,129,0.45)"/>
<rect x="787" y="436" width="5" height="16" fill="rgba(242,54,69,0.45)"/>
<rect x="793" y="443" width="5" height="9" fill="rgba(8,153,129,0.45)"/>
<rect x="799" y="440" width="5" height="12" fill="rgba(8,153,129,0.45)"/>
<rect x="805" y="444" width="5" height="8" fill="rgba(242,54,69,0.45)"/>
<rect x="811" y="441" width="5" height="11" fill="rgba(242,54,69,0.45)"/>
<rect x="817" y="444" width="5" height="8" fill="rgba(242,54,69,0.45)"/>
<rect x="823" y="444" width="5" height="8" fill="rgba(8,153,129,0.45)"/>
<rect x="829" y="444" width="5" height="8" fill="rgba(8,153,129,0.45)"/>
<rect x="835" y="434" width="5" height="18" fill="rgba(242,54,69,0.45)"/>
<rect x="841" y="442" width="5" height="10" fill="rgba(8,153,129,0.45)"/>
<rect x="847" y="444" width="5" height="8" fill="rgba(242,54,69,0.45)"/>
<rect x="853" y="445" width="5" height="7" fill="rgba(242,54,69,0.45)"/>
<rect x="859" y="444" width="5" height="8" fill="rgba(242,54,69,0.45)"/>
</g>
<path d="M10 323h1v1h-1zM13 323h1v1h-1zM16 323h1v1h-1zM19 323h1v1h-1zM22 323h1v1h-1zM25 323h1v1h-1zM28 323h1v1h-1zM31 323h1v1h-1zM34 323h1v1h-1zM37 323h1v1h-1zM40 323h1v1h-1zM43 323h1v1h-1zM46 323h1v1h-1zM49 323h1v1h-1zM52 323h1v1h-1zM55 323h1v1h-1zM58 323h1v1h-1zM61 323h1v1h-1zM64 323h1v1h-1zM67 323h1v1h-1zM70 323h1v1h-1zM73 323h1v1h-1zM76 323h1v1h-1zM79 323h1v1h-1zM82 323h1v1h-1zM85 323h1v1h-1zM88 323h1v1h-1zM91 323h1v1h-1zM94 323h1v1h-1zM97 323h1v1h-1zM100 323h1v1h-1zM103 323h1v1h-1zM106 323h1v1h-1zM109 323h1v1h-1zM112 323h1v1h-1zM115 323h1v1h-1zM118 323h1v1h-1zM121 323h1v1h-1zM124 323h1v1h-1zM127 323h1v1h-1zM130 323h1v1h-1zM133 323h1v1h-1zM136 323h1v1h-1zM139 323h1v1h-1zM142 323h1v1h-1zM145 323h1v1h-1zM148 323h1v1h-1zM151 323h1v1h-1zM154 323h1v1h-1zM157 323h1v1h-1zM160 323h1v1h-1zM163 323h1v1h-1zM166 323h1v1h-1zM169 323h1v1h-1zM172 323h1v1h-1zM175 323h1v1h-1zM178 323h1v1h-1zM181 323h1v1h-1zM184 323h1v1h-1zM187 323h1v1h-1zM190 323h1v1h-1zM193 323h1v1h-1zM196 323h1v1h-1zM199 323h1v1h-1zM202 323h1v1h-1zM205 323h1v1h-1zM208 323h1v1h-1zM211 323h1v1h-1zM214 323h1v1h-1zM217 323h1v1h-1zM220 323h1v1h-1zM223 323h1v1h-1zM226 323h1v1h-1zM229 323h1v1h-1zM232 323h1v1h-1zM235 323h1v1h-1zM238 323h1v1h-1zM241 323h1v1h-1zM244 323h1v1h-1zM247 323h1v1h-1zM250 323h1v1h-1zM253 323h1v1h-1zM256 323h1v1h-1zM259 323h1v1h-1zM262 323h1v1h-1zM265 323h1v1h-1zM268 323h1v1h-1zM271 323h1v1h-1zM274 323h1v1h-1zM277 323h1v1h-1zM280 323h1v1h-1zM283 323h1v1h-1zM286 323h1v1h-1zM289 323h1v1h-1zM292 323h1v1h-1zM295 323h1v1h-1zM298 323h1v1h-1zM301 323h1v1h-1zM304 323h1v1h-1zM307 323h1v1h-1zM310 323h1v1h-1zM313 323h1v1h-1zM316 323h1v1h-1zM319 323h1v1h-1zM322 323h1v1h-1zM325 323h1v1h-1zM328 323h1v1h-1zM331 323h1v1h-1zM334 323h1v1h-1zM337 323h1v1h-1zM340 323h1v1h-1zM343 323h1v1h-1zM346 323h1v1h-1zM349 323h1v1h-1zM352 323h1v1h-1zM355 323h1v1h-1zM358 323h1v1h-1zM361 323h1v1h-1zM364 323h1v1h-1zM367 323h1v1h-1zM370 323h1v1h-1zM373 323h1v1h-1zM376 323h1v1h-1zM379 323h1v1h-1zM382 323h1v1h-1zM385 323h1v1h-1zM388 323h1v1h-1zM391 323h1v1h-1zM394 323h1v1h-1zM397 323h1v1h-1zM400 323h1v1h-1zM403 323h1v1h-1zM406 323h1v1h-1zM409 323h1v1h-1zM412 323h1v1h-1zM415 323h1v1h-1zM418 323h1v1h-1zM421 323h1v1h-1zM424 323h1v1h-1zM427 323h1v1h-1zM430 323h1v1h-1zM433 323h1v1h-1zM436 323h1v1h-1zM439 323h1v1h-1zM442 323h1v1h-1zM445 323h1v1h-1zM448 323h1v1h-1zM451 323h1v1h-1zM454 323h1v1h-1zM457 323h1v1h-1zM460 323h1v1h-1zM463 323h1v1h-1zM466 323h1v1h-1zM469 323h1v1h-1zM472 323h1v1h-1zM475 323h1v1h-1zM478 323h1v1h-1zM481 323h1v1h-1zM484 323h1v1h-1zM487 323h1v1h-1zM490 323h1v1h-1zM493 323h1v1h-1zM496 323h1v1h-1zM499 323h1v1h-1zM502 323h1v1h-1zM505 323h1v1h-1zM508 323h1v1h-1zM511 323h1v1h-1zM514 323h1v1h-1zM517 323h1v1h-1zM520 323h1v1h-1zM523 323h1v1h-1zM526 323h1v1h-1zM529 323h1v1h-1zM532 323h1v1h-1zM535 323h1v1h-1zM538 323h1v1h-1zM541 323h1v1h-1zM544 323h1v1h-1zM547 323h1v1h-1zM550 323h1v1h-1zM553 323h1v1h-1zM556 323h1v1h-1zM559 323h1v1h-1zM562 323h1v1h-1zM565 323h1v1h-1zM568 323h1v1h-1zM571 323h1v1h-1zM574 323h1v1h-1zM577 323h1v1h-1zM580 323h1v1h-1zM583 323h1v1h-1zM586 323h1v1h-1zM589 323h1v1h-1zM592 323h1v1h-1zM595 323h1v1h-1zM598 323h1v1h-1zM601 323h1v1h-1zM604 323h1v1h-1zM607 323h1v1h-1zM610 323h1v1h-1zM613 323h1v1h-1zM616 323h1v1h-1zM619 323h1v1h-1zM622 323h1v1h-1zM625 323h1v1h-1zM628 323h1v1h-1zM631 323h1v1h-1zM634 323h1v1h-1zM637 323h1v1h-1zM640 323h1v1h-1zM643 323h1v1h-1zM646 323h1v1h-1zM649 323h1v1h-1zM652 323h1v1h-1zM655 323h1v1h-1zM658 323h1v1h-1zM661 323h1v1h-1zM664 323h1v1h-1zM667 323h1v1h-1zM670 323h1v1h-1zM673 323h1v1h-1zM676 323h1v1h-1zM679 323h1v1h-1zM682 323h1v1h-1zM685 323h1v1h-1zM688 323h1v1h-1zM691 323h1v1h-1zM694 323h1v1h-1zM697 323h1v1h-1zM700 323h1v1h-1zM703 323h1v1h-1zM706 323h1v1h-1zM709 323h1v1h-1zM712 323h1v1h-1zM715 323h1v1h-1zM718 323h1v1h-1zM721 323h1v1h-1zM724 323h1v1h-1zM727 323h1v1h-1zM730 323h1v1h-1zM733 323h1v1h-1zM736 323h1v1h-1zM739 323h1v1h-1zM742 323h1v1h-1zM745 323h1v1h-1zM748 323h1v1h-1zM751 323h1v1h-1zM754 323h1v1h-1zM757 323h1v1h-1zM760 323h1v1h-1zM763 323h1v1h-1zM766 323h1v1h-1zM769 323h1v1h-1zM772 323h1v1h-1zM775 323h1v1h-1zM778 323h1v1h-1zM781 323h1v1h-1zM784 323h1v1h-1zM787 323h1v1h-1zM790 323h1v1h-1zM793 323h1v1h-1zM796 323h1v1h-1zM799 323h1v1h-1zM802 323h1v1h-1zM805 323h1v1h-1zM808 323h1v1h-1zM811 323h1v1h-1zM814 323h1v1h-1zM817 323h1v1h-1zM820 323h1v1h-1zM823 323h1v1h-1zM826 323h1v1h-1zM829 323h1v1h-1zM832 323h1v1h-1zM835 323h1v1h-1zM838 323h1v1h-1zM841 323h1v1h-1zM844 323h1v1h-1zM847 323h1v1h-1zM850 323h1v1h-1zM853 323h1v1h-1zM856 323h1v1h-1zM859 323h1v1h-1zM862 323h1v1h-1zM865 323h1v1h-1zM868 323h1v1h-1zM871 323h1v1h-1zM874 323h1v1h-1zM877 323h1v1h-1zM880 323h1v1h-1zM883 323h1v1h-1zM886 323h1v1h-1zM889 323h1v1h-1zM892 323h1v1h-1zM895 323h1v1h-1zM898 323h1v1h-1zM901 323h1v1h-1zM904 323h1v1h-1zM907 323h1v1h-1zM910 323h1v1h-1zM913 323h1v1h-1zM916 323h1v1h-1zM919 323h1v1h-1zM922 323h1v1h-1zM925 323h1v1h-1zM928 323h1v1h-1z" fill="#089981" shape-rendering="crispEdges"/>
<text x="937.50 944.60 948.56 954.96" y="36.9" font-size="12" fill="#131722" color="#131722">3.20</text>
<text x="937.50 944.60 948.56 954.96" y="68.9" font-size="12" fill="#131722" color="#131722">3.00</text>
<text x="937.50 944.60 948.56 954.96" y="101.9" font-size="12" fill="#131722" color="#131722">2.80</text>
<text x="937.50 944.60 948.56 954.96" y="133.9" font-size="12" fill="#131722" color="#131722">2.59</text>
<text x="937.50 944.60 948.56 954.96" y="166.9" font-size="12" fill="#131722" color="#131722">2.39</text>
<text x="937.50 944.60 948.56 954.96" y="198.9" font-size="12" fill="#131722" color="#131722">2.19</text>
<text x="937.50 944.60 948.56 954.96" y="231.9" font-size="12" fill="#131722" color="#131722">1.99</text>
<text x="937.50 944.60 948.56 954.96" y="263.9" font-size="12" fill="#131722" color="#131722">1.79</text>
<text x="937.50 944.60 948.56 954.96" y="296.9" font-size="12" fill="#131722" color="#131722">1.59</text>
<text x="937.50 944.60 948.56 954.96" y="361.9" font-size="12" fill="#131722" color="#131722">1.19</text>
<text x="937.50 944.60 948.56 954.96 961.36 967.76" y="393.9" font-size="12" fill="#131722" color="#131722">0.9999</text>
<path d="M930 315h35a2 2 0 0 1 2 2v13a2 2 0 0 1 -2 2h-35z" fill="#089981"/>
<text x="937.6 944.1 948.4 955.1" y="328" font-size="12" font-weight="bold" fill="#fff" style="stroke:none">1.41</text>
<path d="M930 436h50a2 2 0 0 1 2 2v12a2 2 0 0 1 -2 2h-50z" fill="rgba(242,54,69,0.85)"/>
<text x="937.7 944.8 948.7 954.1 961.4 966 969.2" y="449" font-size="12" font-weight="bold" fill="#fff" style="stroke:none">2.341 B</text>
<text x="18" y="421" font-size="12" fill="#131722" color="#131722">Volume</text>
<text x="64.3 70.9 75.4 81.5 87.9 92 95.9" y="421" font-size="12" fill="#f23645" color="#f23645">2.341 B</text>
<g clip-path="url(#ct)">
<text x="15.5" y="470" font-size="12" fill="#131722" color="#131722" text-anchor="middle">Oct</text>
<text x="99.5" y="470" font-size="12" fill="#131722" color="#131722" text-anchor="middle">15</text>
<text x="201.5" y="470" font-size="12" fill="#131722" color="#131722" text-anchor="middle">Nov</text>
<text x="285.5" y="470" font-size="12" fill="#131722" color="#131722" text-anchor="middle">15</text>
<text x="381.5" y="470" font-size="12" fill="#131722" color="#131722" text-anchor="middle">Dec</text>
<text x="465.5" y="470" font-size="12" fill="#131722" color="#131722" text-anchor="middle">15</text>
<text x="567.5" y="470" font-size="12" font-weight="bold" fill="#131722" color="#131722" text-anchor="middle">2026</text>
<text x="651.5" y="470" font-size="12" fill="#131722" color="#131722" text-anchor="middle">15</text>
<text x="753.5" y="470" font-size="12" fill="#131722" color="#131722" text-anchor="middle">Feb</text>
<text x="837.5" y="470" font-size="12" fill="#131722" color="#131722" text-anchor="middle">15</text>
<text x="921.5" y="470" font-size="12" fill="#131722" color="#131722" text-anchor="middle">Mar</text>
</g>
<g fill="#131722" color="#131722"><path d="M10 492h7.5v9.6h-3.5v-6h-4z"/><circle cx="20.9" cy="494" r="1.9"/><path d="M25.1 492h4.4l-4 9.6h-4.3z"/></g>
<text x="33" y="502" font-size="13" fill="#131722" color="#131722" textLength="70" lengthAdjust="spacingAndGlyphs">TradingView</text>
</svg></body></html>
